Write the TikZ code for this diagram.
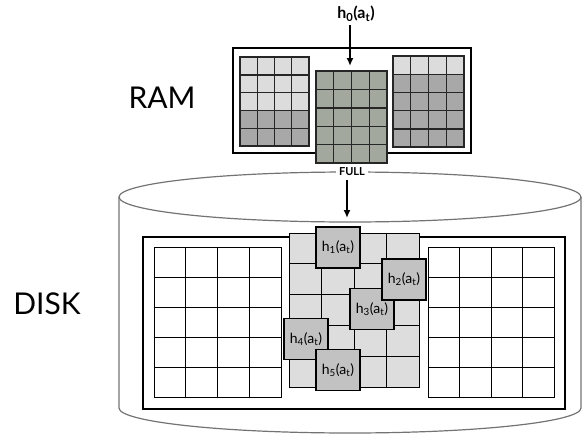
\documentclass[tikz,border=0pt]{standalone}
\usepackage{fontspec}
\setmainfont{Lato}
\usetikzlibrary{arrows.meta}

\definecolor{ramlight}{HTML}{DCDCDC}
\definecolor{ramdark}{HTML}{A8A8A8}
\definecolor{ramfull}{HTML}{A3A89F}
\definecolor{disklight}{HTML}{DDDDDD}
\definecolor{hashfill}{HTML}{C2C2C2}

% cells: left, top, cell width, cell height, columns, rows, fill
\newcommand{\cellgrid}[7]{%
  \foreach \i in {1,...,#5}{\foreach \j in {1,...,#6}{%
    \draw[fill=#7] ({#1+(\i-1)*#3},{#2+(\j-1)*#4}) rectangle ++(#3,#4);}}}

\tikzset{
  hashbox/.style={draw, line width=1.4pt, fill=hashfill, minimum width=44pt,
    minimum height=41pt, inner sep=0pt, font=\fontsize{14}{16}\selectfont},
  bigword/.style={font=\fontsize{30}{34}\selectfont},
  flow/.style={-{Latex[length=8pt,width=7pt]}, line width=2pt}
}

\begin{document}
\begin{tikzpicture}[x=1pt, y=-1pt, line width=1pt]
  \useasboundingbox (0,0) rectangle (582,434);

  % RAM
  \node[bigword] (ram) at (162,98) {RAM};
  \draw[line width=1.5pt, fill=white] (233,48) rectangle (471,153);
  \begin{scope}[line width=1.4pt, draw=black!85]
    \cellgrid{240}{57}{17.25}{17.8}{4}{3}{ramlight}
    \cellgrid{240}{110.4}{17.25}{17.8}{4}{2}{ramdark}
    \cellgrid{316}{71}{17.75}{18.4}{4}{5}{ramfull}
    \cellgrid{393}{56}{17.75}{18.2}{4}{1}{ramlight}
    \cellgrid{393}{74.2}{17.75}{18.2}{4}{4}{ramdark}
  \end{scope}
  \node[font=\fontsize{16}{18}\selectfont\bfseries] (h0) at (356,14)
    {h\textsubscript{0}(a\textsubscript{t})};
  \coordinate (ramin) at (350,66);
  \draw[flow] (h0.south -| ramin) -- (ramin);

  % DISK
  \node[bigword] (disk) at (47,304) {DISK};
  \begin{scope}[draw=black!55, line width=1.2pt]
    \draw (350,197) ellipse [x radius=231, y radius=25];
    \draw (119,197) -- (119,408) arc [start angle=180, end angle=0,
      x radius=231, y radius=25] -- (581,197);
  \end{scope}
  \node[fill=white, inner sep=3pt, font=\fontsize{11}{12}\selectfont\bfseries]
    (full) at (352,172) {FULL};
  \coordinate (diskin) at (347,218);
  \draw[flow] (full.south -| diskin) -- (diskin);

  \draw[line width=1.5pt, fill=white] (143,237) rectangle (565,409);
  \cellgrid{154}{247}{31.75}{30}{4}{5}{white}
  \cellgrid{428}{247}{31.5}{30}{4}{5}{white}
  \cellgrid{289}{233}{32.5}{30.8}{4}{5}{disklight}

  \node[hashbox] (h1) at (338,247.5) {h\textsubscript{1}(a\textsubscript{t})};
  \node[hashbox] (h3) at (372,309) {h\textsubscript{3}(a\textsubscript{t})};
  \node[hashbox] (h2) at (404,279.5) {h\textsubscript{2}(a\textsubscript{t})};
  \node[hashbox] (h4) at (306,339) {h\textsubscript{4}(a\textsubscript{t})};
  \node[hashbox] (h5) at (338,370) {h\textsubscript{5}(a\textsubscript{t})};
\end{tikzpicture}
\end{document}
